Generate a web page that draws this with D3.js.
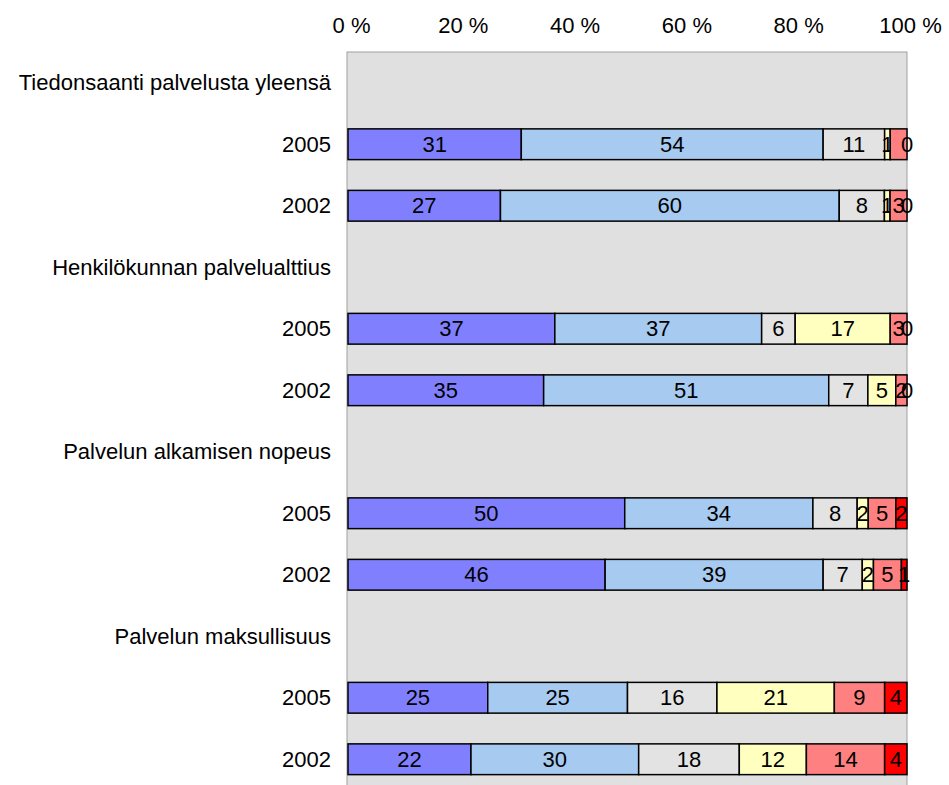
<!DOCTYPE html>
<html>
<head>
<meta charset="utf-8">
<script src="https://cdnjs.cloudflare.com/ajax/libs/d3/7.8.5/d3.min.js"></script>
<style>
body { margin: 0; background: #fff; }
text { font-family: "Liberation Sans", Arial, sans-serif; }
</style>
</head>
<body>
<script>
var groups = ["Tiedonsaanti palvelusta yleensä", "Henkilökunnan palvelualttius", "Palvelun alkamisen nopeus", "Palvelun maksullisuus"];
var years = ["2005", "2002"];

// one value per bar, in order: group1 2005, group1 2002, group2 2005, ...
var s1 = [31, 27, 37, 35, 50, 46, 25, 22];
var s2 = [54, 60, 37, 51, 34, 39, 25, 30];
var s3 = [11, 8, 6, 7, 8, 7, 16, 18];
var s4 = [1, 1, 17, 5, 2, 2, 21, 12];
var s5 = [3, 3, 3, 2, 5, 5, 9, 14];
var s6 = [0, 0, 0, 0, 2, 1, 4, 4];
var seriesKeys = ["s1", "s2", "s3", "s4", "s5", "s6"];
var colors = ["#8080ff", "#a6caf0", "#e3e3e3", "#ffffc0", "#ff8080", "#ff0000"];
var ticks = [0, 0.2, 0.4, 0.6, 0.8, 1];
// label not shown in the original (overlapped)
var hiddenLabels = [{bar: 0, key: "s5"}];

var w = 949, h = 785, fs = 22;
var svg = d3.select("body").append("svg").attr("width", w).attr("height", h);

// rows: header, 2005, 2002 for each group
var rows = [];
var bars = [];
groups.forEach(function(g, gi) {
  rows.push({id: "h" + gi, label: g});
  years.forEach(function(yr, yi) {
    var i = gi * 2 + yi;
    var id = "b" + i;
    rows.push({id: id, label: yr});
    bars.push({id: id, idx: i, s1: s1[i], s2: s2[i], s3: s3[i], s4: s4[i], s5: s5[i], s6: s6[i]});
  });
});

var x = d3.scaleLinear().domain([0, 1]).range([348, 907]);
var y = d3.scaleBand().domain(rows.map(function(r) { return r.id; }))
  .range([52, 790]).paddingInner(0.5).paddingOuter(0.25);

// plot area
svg.append("rect")
  .attr("x", 347).attr("y", 52)
  .attr("width", 560).attr("height", 740)
  .attr("fill", "#e0e0e0")
  .attr("stroke", "#a0a0a0")
  .attr("stroke-width", 1);

// top axis
var axis = svg.append("g").attr("transform", "translate(3,28)")
  .call(d3.axisTop(x).tickValues(ticks).tickSize(0).tickFormat(function(d) { return Math.round(d * 100) + " %"; }));
axis.select(".domain").remove();
axis.selectAll("text").attr("font-size", fs).attr("fill", "#000").attr("dy", "0.35em")
  .attr("font-family", "Liberation Sans, Arial, sans-serif");

// row labels
svg.append("g").selectAll("text").data(rows).enter().append("text")
  .attr("x", 331)
  .attr("y", function(d) { return y(d.id) + y.bandwidth() / 2; })
  .attr("dy", "0.35em")
  .attr("text-anchor", "end")
  .attr("font-size", fs)
  .text(function(d) { return d.label; });

var stack = d3.stack().keys(seriesKeys).offset(d3.stackOffsetExpand);
var layers = stack(bars);

var lg = svg.selectAll("g.layer").data(layers).enter().append("g")
  .attr("class", "layer")
  .attr("fill", function(d, i) { return colors[i]; });

lg.selectAll("rect").data(function(d) { return d; }).enter().append("rect")
  .attr("x", function(d) { return x(d[0]); })
  .attr("y", function(d) { return y(d.data.id); })
  .attr("width", function(d) { return x(d[1]) - x(d[0]); })
  .attr("height", y.bandwidth())
  .attr("stroke", "#000")
  .attr("stroke-width", 1.5);

lg.each(function(layer) {
  var key = layer.key;
  d3.select(this).selectAll("text").data(layer.filter(function(d) {
    return !hiddenLabels.some(function(hl) { return hl.bar === d.data.idx && hl.key === key; });
  })).enter().append("text")
    .attr("x", function(d) { return (x(d[0]) + x(d[1])) / 2; })
    .attr("y", function(d) { return y(d.data.id) + y.bandwidth() / 2; })
    .attr("dy", "0.35em")
    .attr("text-anchor", "middle")
    .attr("font-size", fs)
    .attr("fill", "#000")
    .text(function(d) { return d.data[key]; });
});
</script>
</body>
</html>
